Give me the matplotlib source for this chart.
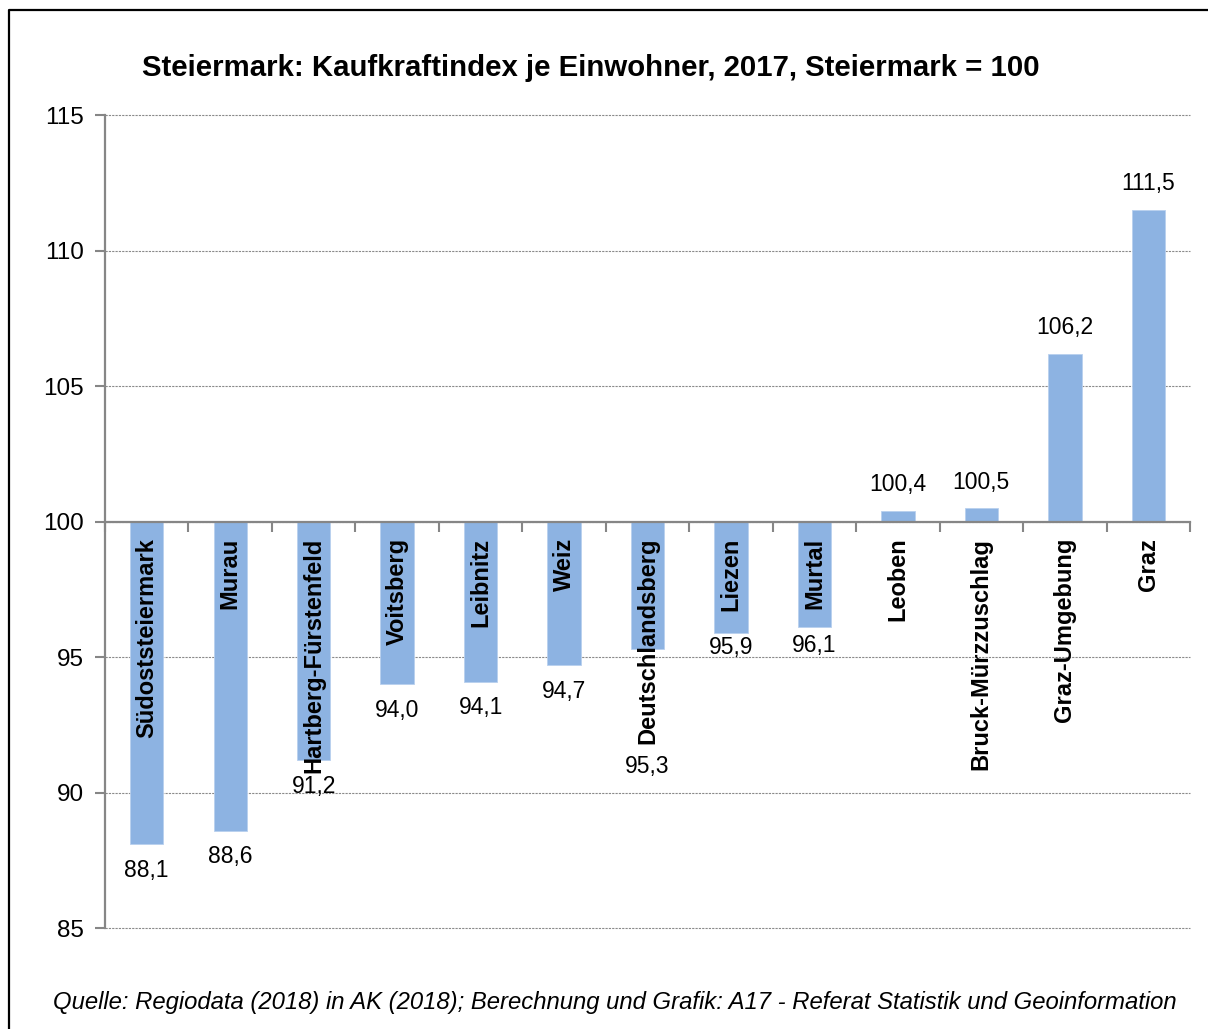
import matplotlib
matplotlib.use("Agg")
import matplotlib.pyplot as plt
from matplotlib.lines import Line2D

bezirke = ["Südoststeiermark", "Murau", "Hartberg-Fürstenfeld", "Voitsberg",
           "Leibnitz", "Weiz", "Deutschlandsberg", "Liezen", "Murtal",
           "Leoben", "Bruck-Mürzzuschlag", "Graz-Umgebung", "Graz"]
index = [88.1, 88.6, 91.2, 94.0, 94.1, 94.7, 95.3, 95.9, 96.1,
         100.4, 100.5, 106.2, 111.5]
yticks = [85, 90, 95, 100, 105, 110, 115]

title = "Steiermark: Kaufkraftindex je Einwohner, 2017, Steiermark = 100"
quelle = ("Quelle: Regiodata (2018) in AK (2018); Berechnung und Grafik: "
          "A17 - Referat Statistik und Geoinformation")

# label offsets (pixels from bar end), a few were moved by hand in the original
label_shift = {"Deutschlandsberg": 117, "Liezen": 15, "Murtal": 18}

plt.rcParams["font.family"] = ["Liberation Sans", "DejaVu Sans"]

W, H = 1208, 1029
fig = plt.figure(figsize=(W / 100, H / 100), dpi=100)
ax = fig.add_axes([105 / W, 1 - 928.3 / H, 1085 / W, 813.3 / H])

grau = "#868686"
x = list(range(len(bezirke)))
heights = [v - 100 for v in index]
ax.bar(x, heights, bottom=100, width=0.40, color="#8db3e2",
       edgecolor="#b9d0ee", linewidth=0.6, zorder=3)

ax.set_xlim(-0.5, len(bezirke) - 0.5)
ax.set_ylim(85, 115)
ax.set_yticks(yticks)
ax.set_yticklabels([str(t) for t in yticks], fontsize=17.5)
ax.yaxis.grid(True, color="#8a8a8a", linestyle=(0, (2, 1)), linewidth=0.8,
              zorder=0)
for gl in ax.get_ygridlines():
    gl.set_clip_on(False)
ax.tick_params(axis="y", length=7, width=1.5, color=grau, pad=8)

# x axis sits on the 100 line, ticks between categories
ax.spines["bottom"].set_position(("data", 100))
ax.spines["bottom"].set_color(grau)
ax.spines["bottom"].set_linewidth(1.6)
ax.spines["bottom"].set_zorder(4)
ax.spines["left"].set_color(grau)
ax.spines["left"].set_linewidth(1.6)
ax.spines["top"].set_visible(False)
ax.spines["right"].set_visible(False)
ax.set_xticks([i + 0.5 for i in range(-1, len(bezirke))])
ax.set_xticklabels([])
ax.tick_params(axis="x", direction="out", length=7, width=1.5, color=grau)

for i, (name, v) in enumerate(zip(bezirke, index)):
    ax.annotate(name, (i, 100), xytext=(0, -16 * 0.72),
                textcoords="offset points", rotation=90, ha="center",
                va="top", fontsize=17, fontweight="bold", zorder=5)
    shift = label_shift.get(name, 26)
    sign = -1 if v < 100 else 1
    ax.annotate(f"{v:.1f}".replace(".", ","), (i, v),
                xytext=(0, sign * shift * 0.72), textcoords="offset points",
                ha="center", va="center", fontsize=16.5, zorder=5)

fig.text(591 / W, 1 - 68 / H, title, ha="center", va="center",
         fontsize=21.2, fontweight="bold")
fig.text(615 / W, 1 - 1002 / H, quelle, ha="center", va="center",
         fontsize=17.2, style="italic")

# frame of the original graphic (only left and top edges are visible)
fig.add_artist(Line2D([9 / W, 9 / W, 1.01], [-0.01, 1 - 10 / H, 1 - 10 / H],
                      transform=fig.transFigure, color="black", linewidth=1.6))

fig.savefig("out.png", dpi=100)
